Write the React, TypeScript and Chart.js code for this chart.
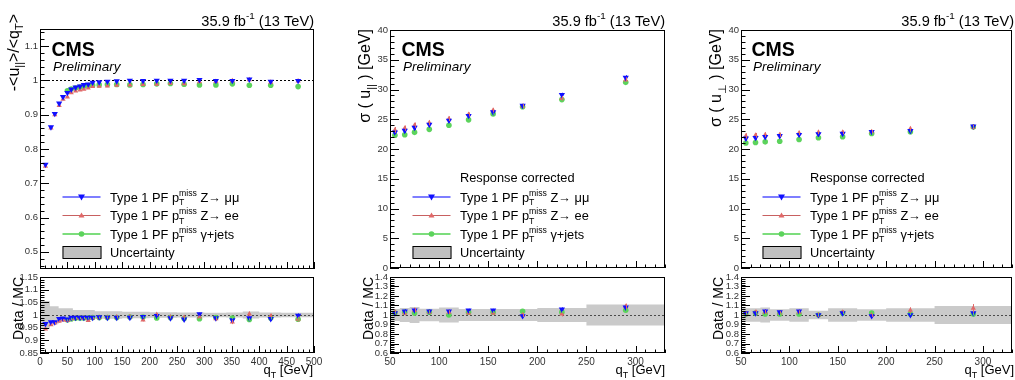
import React, { useEffect, useRef } from 'react';
import { Chart, registerables } from 'chart.js';

Chart.register(...registerables);

const FONT = '"Liberation Sans", Arial, Helvetica, sans-serif';
Chart.defaults.font.family = FONT;

// ---------------- Panel 1 : response -<u_||>/<q_T> ----------------
const respX = [10, 20, 27, 35, 42, 50, 57, 65, 73, 80, 88, 96, 108, 123, 140, 164, 188, 213, 238, 263, 291, 321, 351, 382, 421, 471];
const respMuMu = [0.755, 0.864, 0.903, 0.933, 0.952, 0.964, 0.974, 0.98, 0.983, 0.987, 0.989, 0.994, 0.995, 0.997, 0.998, 1.0, 0.999, 1.0, 1.0, 1.0, 1.002, 0.999, 0.999, 1.003, 0.997, 0.999];
const respEE = [0.75, 0.861, 0.9, 0.927, 0.945, 0.952, 0.964, 0.969, 0.972, 0.974, 0.978, 0.982, 0.983, 0.984, 0.986, 0.987, 0.988, 0.989, 0.992, 0.99, 0.996, 0.997, 0.999, 1.002, 0.995, 0.998];
const respGammaX = [50, 57, 65, 73, 80, 88, 96, 108, 123, 140, 164, 188, 213, 238, 263, 291, 321, 351, 382, 421, 471];
const respGamma = [0.97, 0.975, 0.978, 0.981, 0.983, 0.985, 0.986, 0.987, 0.988, 0.988, 0.987, 0.988, 0.99, 0.991, 0.989, 0.987, 0.987, 0.99, 0.986, 0.986, 0.982];

const respRatMuMu = [0.965, 0.972, 0.972, 0.985, 0.987, 0.983, 0.99, 0.99, 0.99, 0.99, 0.99, 0.99, 0.992, 0.99, 0.99, 0.99, 0.993, 0.997, 0.988, 0.983, 1.004, 0.988, 0.98, 0.988, 0.985, 0.998];
const respRatMuMuErr = [0.004, 0.003, 0.003, 0.003, 0.003, 0.003, 0.003, 0.003, 0.003, 0.003, 0.003, 0.003, 0.003, 0.003, 0.003, 0.003, 0.004, 0.004, 0.004, 0.005, 0.005, 0.006, 0.007, 0.007, 0.008, 0.008];
const respRatEE = [0.945, 0.962, 0.968, 0.975, 0.98, 0.978, 0.985, 0.988, 0.988, 0.988, 0.978, 0.988, 0.99, 0.99, 0.992, 0.993, 0.98, 1.002, 0.992, 0.99, 0.992, 0.985, 0.972, 1.004, 0.995, 0.983];
const respRatEEErr = [0.005, 0.004, 0.004, 0.004, 0.004, 0.004, 0.004, 0.004, 0.004, 0.004, 0.004, 0.004, 0.004, 0.004, 0.004, 0.004, 0.005, 0.005, 0.005, 0.006, 0.006, 0.007, 0.008, 0.009, 0.01, 0.01];
const respRatGamma = [0.98, 0.985, 0.987, 0.988, 0.988, 0.988, 0.99, 0.99, 0.99, 0.99, 0.992, 0.992, 0.988, 0.99, 0.986, 0.985, 0.99, 0.988, 0.982, 0.988, 0.983];
const respRatGammaErr = [0.003, 0.003, 0.003, 0.003, 0.003, 0.003, 0.003, 0.003, 0.003, 0.003, 0.003, 0.003, 0.003, 0.003, 0.004, 0.004, 0.004, 0.005, 0.005, 0.005, 0.006];

const respBandEdges = [0, 18, 34, 60, 100, 150, 200, 250, 300, 340, 370, 400, 440, 500];
const respBandErr = [0.055, 0.035, 0.027, 0.02, 0.015, 0.013, 0.011, 0.01, 0.009, 0.01, 0.014, 0.01, 0.009];

const respXTicks = [0, 50, 100, 150, 200, 250, 300, 350, 400, 450, 500];
const respYTicks = [0.5, 0.6, 0.7, 0.8, 0.9, 1, 1.1];
const respRatYTicks = [0.85, 0.9, 0.95, 1, 1.05, 1.1, 1.15];

// ---------------- Panels 2 & 3 : resolutions ----------------
const sigX = [55, 65, 75, 90, 110, 130, 155, 185, 225, 290];

const paraMuMu = [22.8, 23.1, 23.6, 24.1, 24.8, 25.6, 26.2, 27.3, 29.1, 32.0];
const paraMuMuErr = [0.45, 0.4, 0.4, 0.35, 0.35, 0.3, 0.3, 0.3, 0.35, 0.4];
const paraEE = [23.2, 23.5, 24.0, 24.4, 25.1, 25.8, 26.5, 27.2, 28.5, 31.6];
const paraEEErr = [0.5, 0.45, 0.45, 0.4, 0.4, 0.35, 0.35, 0.35, 0.4, 0.45];
const paraGamma = [22.3, 22.4, 22.8, 23.3, 24.0, 24.9, 25.9, 27.1, 28.3, 31.2];
const paraGammaErr = [0.15, 0.15, 0.15, 0.1, 0.1, 0.1, 0.1, 0.1, 0.1, 0.15];

const paraRatMuMu = [1.02, 1.04, 1.05, 1.04, 1.04, 1.05, 1.05, 0.99, 1.06, 1.08];
const paraRatMuMuErr = [0.02, 0.02, 0.02, 0.015, 0.015, 0.015, 0.015, 0.015, 0.02, 0.025];
const paraRatEE = [1.03, 1.02, 1.05, 1.03, 1.03, 1.02, 1.02, 1.0, 1.01, 1.09];
const paraRatEEErr = [0.025, 0.025, 0.025, 0.02, 0.02, 0.02, 0.02, 0.02, 0.025, 0.03];
const paraRatGamma = [1.02, 1.03, 1.02, 1.03, 1.0, 1.03, 1.03, 1.04, 1.03, 1.05];
const paraRatGammaErr = [0.01, 0.01, 0.01, 0.01, 0.01, 0.01, 0.01, 0.01, 0.01, 0.015];

const perpMuMu = [21.8, 21.9, 22.05, 22.2, 22.4, 22.5, 22.6, 22.9, 23.05, 23.8];
const perpMuMuErr = [0.4, 0.35, 0.35, 0.3, 0.3, 0.3, 0.25, 0.25, 0.3, 0.35];
const perpEE = [22.2, 22.3, 22.4, 22.4, 22.7, 22.8, 22.8, 22.9, 23.4, 23.7];
const perpEEErr = [0.45, 0.4, 0.4, 0.35, 0.35, 0.3, 0.3, 0.3, 0.35, 0.4];
const perpGamma = [21.0, 21.1, 21.2, 21.3, 21.6, 21.9, 22.05, 22.6, 22.9, 23.7];
const perpGammaErr = [0.12, 0.12, 0.12, 0.1, 0.1, 0.1, 0.1, 0.1, 0.1, 0.12];

const perpRatMuMu = [1.02, 1.02, 1.04, 1.03, 1.04, 1.0, 1.02, 0.99, 1.0, 1.02];
const perpRatMuMuErr = [0.02, 0.02, 0.02, 0.015, 0.015, 0.015, 0.015, 0.015, 0.02, 0.03];
const perpRatEE = [1.01, 1.03, 1.03, 1.02, 1.03, 1.0, 1.03, 1.0, 1.05, 1.07];
const perpRatEEErr = [0.025, 0.025, 0.025, 0.02, 0.02, 0.02, 0.02, 0.02, 0.03, 0.045];
const perpRatGamma = [1.01, 1.02, 1.01, 1.01, 1.01, 1.0, 1.02, 1.02, 1.01, 1.01];
const perpRatGammaErr = [0.01, 0.01, 0.01, 0.01, 0.01, 0.01, 0.01, 0.01, 0.01, 0.015];

const sigBandEdges = [50, 60, 70, 80, 100, 120, 140, 170, 200, 250, 330];
const paraBandErr = [0.063, 0.074, 0.084, 0.067, 0.08, 0.063, 0.063, 0.063, 0.074, 0.11];
const perpBandErr = [0.07, 0.07, 0.08, 0.06, 0.07, 0.045, 0.07, 0.06, 0.07, 0.095];

const sigXTicks = [50, 100, 150, 200, 250, 300];
const sigYTicks = [0, 5, 10, 15, 20, 25, 30, 35, 40];
const sigRatYTicks = [0.6, 0.7, 0.8, 0.9, 1, 1.1, 1.2, 1.3, 1.4];

// ---------------- styles ----------------
const C_MUMU = '#1010ff';
const C_EE = '#e06868';
const C_GAMMA = '#5cd35c';
const L_MUMU = 'rgba(40,40,255,0.6)';
const L_EE = '#c86060';
const L_GAMMA = 'rgba(80,210,80,0.75)';
const BAND_FILL = 'rgba(150,150,150,0.5)';

type Seg = { t?: string; sup?: string; sub?: string };

function fnt(size: number, style = '') {
  return `${style} ${size}px ${FONT}`.trim();
}

function richWidth(ctx: CanvasRenderingContext2D, segs: Seg[], size: number, style = '') {
  let w = 0;
  for (const s of segs) {
    if (s.t !== undefined) {
      ctx.font = fnt(size, style);
      w += ctx.measureText(s.t).width;
    } else {
      ctx.font = fnt(size * 0.68, style);
      const a = s.sup ? ctx.measureText(s.sup).width : 0;
      const b = s.sub ? ctx.measureText(s.sub).width : 0;
      w += Math.max(a, b);
    }
  }
  return w;
}

function drawRich(ctx: CanvasRenderingContext2D, segs: Seg[], x: number, y: number, size: number, align = 'left', style = '') {
  const w = richWidth(ctx, segs, size, style);
  let cx = align === 'right' ? x - w : align === 'center' ? x - w / 2 : x;
  ctx.textAlign = 'left';
  ctx.textBaseline = 'alphabetic';
  for (const s of segs) {
    if (s.t !== undefined) {
      ctx.font = fnt(size, style);
      ctx.fillText(s.t, cx, y);
      cx += ctx.measureText(s.t).width;
    } else {
      ctx.font = fnt(size * 0.68, style);
      let ww = 0;
      if (s.sup) {
        ctx.fillText(s.sup, cx, y - size * 0.45);
        ww = ctx.measureText(s.sup).width;
      }
      if (s.sub) {
        ctx.fillText(s.sub, cx, y + size * 0.3);
        ww = Math.max(ww, ctx.measureText(s.sub).width);
      }
      cx += ww;
    }
  }
}

function drawRotated(ctx: CanvasRenderingContext2D, segs: Seg[], bx: number, endY: number, size: number) {
  ctx.save();
  ctx.translate(bx, endY);
  ctx.rotate(-Math.PI / 2);
  ctx.fillStyle = '#000';
  drawRich(ctx, segs, 0, 0, size, 'right');
  ctx.restore();
}

function marker(ctx: CanvasRenderingContext2D, kind: string, x: number, y: number, r: number, color: string) {
  ctx.fillStyle = color;
  ctx.beginPath();
  if (kind === 'down') {
    ctx.moveTo(x - r, y - r * 0.7);
    ctx.lineTo(x + r, y - r * 0.7);
    ctx.lineTo(x, y + r);
  } else if (kind === 'up') {
    ctx.moveTo(x - r, y + r * 0.7);
    ctx.lineTo(x + r, y + r * 0.7);
    ctx.lineTo(x, y - r);
  } else {
    ctx.arc(x, y, r, 0, Math.PI * 2);
  }
  ctx.closePath();
  ctx.fill();
}

function range(a: number, b: number, d: number): number[] {
  const out: number[] = [];
  const n = Math.round((b - a) / d);
  for (let i = 0; i <= n; i++) out.push(+(a + i * d).toFixed(6));
  return out;
}

const LEG_LABELS: Seg[][] = [
  [{ t: 'Type 1 PF p' }, { sup: 'miss', sub: 'T' }, { t: ' Z\u2192 \u03bc\u03bc' }],
  [{ t: 'Type 1 PF p' }, { sup: 'miss', sub: 'T' }, { t: ' Z\u2192 ee' }],
  [{ t: 'Type 1 PF p' }, { sup: 'miss', sub: 'T' }, { t: ' \u03b3+jets' }],
];

function drawLegend(ctx: CanvasRenderingContext2D, lx: number, tx: number, header: boolean) {
  const size = 12.8;
  ctx.fillStyle = '#000';
  if (header) {
    ctx.font = fnt(size);
    ctx.textAlign = 'left';
    ctx.textBaseline = 'alphabetic';
    ctx.fillText('Response corrected', tx, 182);
  }
  const rows = [
    { y: 197, lc: L_MUMU, lw: 2, mk: 'down', mc: C_MUMU, r: 3.5 },
    { y: 215.5, lc: L_EE, lw: 1.2, mk: 'up', mc: C_EE, r: 3 },
    { y: 234, lc: L_GAMMA, lw: 2, mk: 'circle', mc: C_GAMMA, r: 2.8 },
  ];
  rows.forEach((row, i) => {
    ctx.strokeStyle = row.lc;
    ctx.lineWidth = row.lw;
    ctx.beginPath();
    ctx.moveTo(lx, row.y);
    ctx.lineTo(lx + 38, row.y);
    ctx.stroke();
    marker(ctx, row.mk, lx + 19, row.y, row.r, row.mc);
    ctx.fillStyle = '#000';
    drawRich(ctx, LEG_LABELS[i], tx, row.y + 4.6, size);
  });
  ctx.fillStyle = 'rgba(150,150,150,0.6)';
  ctx.fillRect(lx, 246, 39, 12);
  ctx.strokeStyle = '#000';
  ctx.lineWidth = 1;
  ctx.strokeRect(lx + 0.5, 246.5, 38, 12);
  ctx.fillStyle = '#000';
  ctx.font = fnt(size);
  ctx.textAlign = 'left';
  ctx.fillText('Uncertainty', tx, 256.6);
}

function drawHeader(ctx: CanvasRenderingContext2D, frameR: number, cmsX: number) {
  ctx.fillStyle = '#000';
  drawRich(ctx, [{ t: '35.9 fb' }, { sup: '-1' }, { t: ' (13 TeV)' }], frameR, 25.5, 14.6, 'right');
  ctx.font = fnt(19.5, 'bold');
  ctx.textAlign = 'left';
  ctx.textBaseline = 'alphabetic';
  ctx.fillText('CMS', cmsX, 56);
  ctx.font = fnt(13.5, 'italic');
  ctx.fillText('Preliminary', cmsX + 1.5, 71);
}

type Series = { xs: number[]; ys: number[]; errs?: number[]; style: string; rotation?: number; radius: number; color: string };

type SubPlot = {
  key: string;
  x: number; y: number; w: number; h: number;
  area: [number, number, number, number];
  xRange: [number, number];
  yRange: [number, number];
  xMajor: number[]; xMinor: number[]; showXLabels: boolean;
  yMajor: number[]; yMinor: number[];
  xTickLen: [number, number]; yTickLen: [number, number];
  series: Series[];
  band?: { edges: number[]; errs: number[] };
  refLine?: number;
  texts?: (ctx: CanvasRenderingContext2D) => void;
};

function fmt(v: number) {
  return String(Number(v.toFixed(3)));
}

function ChartCanvas({ p }: { p: SubPlot }) {
  const ref = useRef<HTMLCanvasElement>(null);
  useEffect(() => {
    const canvas = ref.current!;
    const [l, t, r, b] = p.area;
    const aL = l - p.x, aT = t - p.y, aR = r - p.x, aB = b - p.y;
    const datasets: any[] = p.series.map((s) => ({
      data: s.xs.map((x, i) => ({ x, y: s.ys[i] })),
      errors: s.errs,
      showLine: false,
      pointStyle: s.style,
      rotation: s.rotation ?? 0,
      pointRadius: s.radius,
      pointBackgroundColor: s.color,
      pointBorderColor: s.color,
      pointBorderWidth: 0,
      borderColor: s.color,
      backgroundColor: s.color,
    }));
    if (p.band) {
      const up: any[] = [];
      const lo: any[] = [];
      const errs = p.band.errs;
      p.band.edges.forEach((e, i) => {
        const k = Math.min(i, errs.length - 1);
        up.push({ x: e, y: 1 + errs[k] });
        lo.push({ x: e, y: 1 - errs[k] });
      });
      datasets.push({ data: up, stepped: 'before', showLine: true, borderWidth: 0, borderColor: 'rgba(0,0,0,0)', pointRadius: 0, fill: false });
      datasets.push({ data: lo, stepped: 'before', showLine: true, borderWidth: 0, borderColor: 'rgba(0,0,0,0)', pointRadius: 0, backgroundColor: BAND_FILL, fill: '-1' });
    }

    const deco = {
      id: 'deco',
      beforeDatasetsDraw(chart: any) {
        if (p.refLine === undefined) return;
        const ctx = chart.ctx as CanvasRenderingContext2D;
        const ca = chart.chartArea;
        const yy = Math.round(chart.scales.y.getPixelForValue(p.refLine)) + 0.5;
        ctx.save();
        ctx.strokeStyle = '#000';
        ctx.lineWidth = 1;
        ctx.setLineDash([2, 2]);
        ctx.beginPath();
        ctx.moveTo(ca.left, yy);
        ctx.lineTo(ca.right, yy);
        ctx.stroke();
        ctx.restore();
      },
      afterDatasetsDraw(chart: any) {
        const ctx = chart.ctx as CanvasRenderingContext2D;
        const ca = chart.chartArea;
        const xs = chart.scales.x, ys = chart.scales.y;
        ctx.save();
        ctx.beginPath();
        ctx.rect(ca.left, ca.top, ca.right - ca.left, ca.bottom - ca.top);
        ctx.clip();
        chart.data.datasets.forEach((ds: any) => {
          if (!ds.errors) return;
          ctx.strokeStyle = ds.borderColor;
          ctx.lineWidth = 1;
          ds.data.forEach((pt: any, i: number) => {
            const e = ds.errors[i];
            const px = Math.round(xs.getPixelForValue(pt.x)) + 0.5;
            ctx.beginPath();
            ctx.moveTo(px, ys.getPixelForValue(pt.y - e));
            ctx.lineTo(px, ys.getPixelForValue(pt.y + e));
            ctx.stroke();
          });
        });
        ctx.restore();
      },
      afterDraw(chart: any) {
        const ctx = chart.ctx as CanvasRenderingContext2D;
        const ca = chart.chartArea;
        const xs = chart.scales.x, ys = chart.scales.y;
        ctx.save();
        ctx.strokeStyle = '#000';
        ctx.lineWidth = 1;
        ctx.setLineDash([]);
        ctx.beginPath();
        const drawY = (vals: number[], len: number) => {
          vals.forEach((v) => {
            const yy = Math.round(ys.getPixelForValue(v)) + 0.5;
            if (yy < ca.top || yy > ca.bottom + 1) return;
            ctx.moveTo(ca.left, yy);
            ctx.lineTo(ca.left + len, yy);
          });
        };
        const drawX = (vals: number[], len: number) => {
          vals.forEach((v) => {
            const xx = Math.round(xs.getPixelForValue(v)) + 0.5;
            if (xx < ca.left || xx > ca.right + 1) return;
            ctx.moveTo(xx, ca.bottom);
            ctx.lineTo(xx, ca.bottom - len);
          });
        };
        drawY(p.yMinor, p.yTickLen[1]);
        drawY(p.yMajor, p.yTickLen[0]);
        drawX(p.xMinor, p.xTickLen[1]);
        drawX(p.xMajor, p.xTickLen[0]);
        ctx.stroke();
        ctx.strokeRect(ca.left + 0.5, ca.top + 0.5, ca.right - ca.left - 1, ca.bottom - ca.top - 1);
        if (p.texts) {
          ctx.translate(-p.x, -p.y);
          p.texts(ctx);
        }
        ctx.restore();
      },
    };

    const chart = new Chart(canvas, {
      type: 'line',
      data: { datasets },
      plugins: [deco],
      options: {
        animation: false,
        responsive: false,
        maintainAspectRatio: false,
        devicePixelRatio: 1,
        events: [],
        layout: { padding: { left: 0, top: aT, right: p.w - aR, bottom: p.showXLabels ? 0 : p.h - aB } },
        plugins: { legend: { display: false }, tooltip: { enabled: false }, title: { display: false } },
        scales: {
          x: {
            type: 'linear',
            min: p.xRange[0],
            max: p.xRange[1],
            display: p.showXLabels,
            grid: { display: false, drawTicks: false },
            border: { display: false },
            ticks: { autoSkip: false, maxRotation: 0, padding: 3, color: '#333', font: { size: 10, family: FONT }, callback: (v: any) => fmt(Number(v)) },
            afterBuildTicks: (s: any) => { s.ticks = p.xMajor.map((v) => ({ value: v })); },
            afterFit: (s: any) => { s.height = p.showXLabels ? p.h - aB : 0; },
          },
          y: {
            type: 'linear',
            min: p.yRange[0],
            max: p.yRange[1],
            grid: { display: false, drawTicks: false },
            border: { display: false },
            ticks: { autoSkip: false, padding: 2, color: '#333', font: { size: 9.5, family: FONT }, callback: (v: any) => fmt(Number(v)) },
            afterBuildTicks: (s: any) => { s.ticks = p.yMajor.map((v) => ({ value: v })); },
            afterFit: (s: any) => { s.width = aL; },
          },
        },
      } as any,
    });
    return () => chart.destroy();
  }, []);
  return (
    <canvas
      ref={ref}
      width={p.w}
      height={p.h}
      style={{ position: 'absolute', left: p.x, top: p.y, width: p.w, height: p.h, display: 'block' }}
    />
  );
}

const mumuS = (xs: number[], ys: number[], errs?: number[]): Series => ({ xs, ys, errs, style: 'triangle', rotation: 180, radius: 3.6, color: C_MUMU });
const eeS = (xs: number[], ys: number[], errs?: number[]): Series => ({ xs, ys, errs, style: 'triangle', radius: 3, color: C_EE });
const gamS = (xs: number[], ys: number[], errs?: number[]): Series => ({ xs, ys, errs, style: 'circle', radius: 2.8, color: C_GAMMA });

const respTitle: Seg[] = [{ t: '-<u' }, { sub: '||' }, { t: '>/<q' }, { sub: 'T' }, { t: '>' }];
const paraTitle: Seg[] = [{ t: '\u03c3 ( u' }, { sub: '||' }, { t: ' ) [GeV]' }];
const perpTitle: Seg[] = [{ t: '\u03c3 ( u' }, { sub: '\u22a5' }, { t: ' ) [GeV]' }];
const qtTitle: Seg[] = [{ t: 'q' }, { sub: 'T' }, { t: ' [GeV]' }];
const ratioTitle: Seg[] = [{ t: 'Data / MC' }];

function ratioTexts(frameR: number, titleX: number) {
  return (ctx: CanvasRenderingContext2D) => {
    drawRotated(ctx, ratioTitle, titleX, 277, 14);
    ctx.fillStyle = '#000';
    drawRich(ctx, qtTitle, frameR, 374, 13, 'right');
  };
}

const PLOTS: SubPlot[] = [
  {
    key: 'resp-main', x: 0, y: 0, w: 340, h: 285, area: [40, 29, 314, 269],
    xRange: [0, 500], yRange: [0.45, 1.15],
    xMajor: respXTicks, xMinor: range(0, 500, 10), showXLabels: false,
    yMajor: respYTicks, yMinor: range(0.46, 1.14, 0.02),
    xTickLen: [7, 3.5], yTickLen: [9, 4.5],
    series: [mumuS(respX, respMuMu), eeS(respX, respEE), gamS(respGammaX, respGamma)],
    refLine: 1,
    texts: (ctx) => {
      drawHeader(ctx, 314, 51.5);
      drawRotated(ctx, respTitle, 18.5, 14, 16);
      drawLegend(ctx, 62.5, 110, false);
    },
  },
  {
    key: 'resp-ratio', x: 0, y: 262, w: 340, h: 118, area: [40, 277, 314, 353],
    xRange: [0, 500], yRange: [0.85, 1.15],
    xMajor: respXTicks, xMinor: range(0, 500, 10), showXLabels: true,
    yMajor: respRatYTicks, yMinor: range(0.85, 1.15, 0.01),
    xTickLen: [7, 3.5], yTickLen: [9, 4.5],
    series: [mumuS(respX, respRatMuMu, respRatMuMuErr), eeS(respX, respRatEE, respRatEEErr), gamS(respGammaX, respRatGamma, respRatGammaErr)],
    band: { edges: respBandEdges, errs: respBandErr },
    refLine: 1,
    texts: ratioTexts(313, 22.5),
  },
  {
    key: 'para-main', x: 340, y: 0, w: 340, h: 285, area: [390, 30, 665, 268],
    xRange: [50, 330], yRange: [0, 40],
    xMajor: sigXTicks, xMinor: range(50, 330, 10), showXLabels: false,
    yMajor: sigYTicks, yMinor: range(0, 40, 1),
    xTickLen: [7, 3.5], yTickLen: [9, 4.5],
    series: [mumuS(sigX, paraMuMu, paraMuMuErr), eeS(sigX, paraEE, paraEEErr), gamS(sigX, paraGamma, paraGammaErr)],
    texts: (ctx) => {
      drawHeader(ctx, 665, 401.5);
      drawRotated(ctx, paraTitle, 370, 29, 16);
      drawLegend(ctx, 412.5, 460, true);
    },
  },
  {
    key: 'para-ratio', x: 340, y: 262, w: 340, h: 118, area: [390, 277, 665, 353],
    xRange: [50, 330], yRange: [0.6, 1.4],
    xMajor: sigXTicks, xMinor: range(50, 330, 10), showXLabels: true,
    yMajor: sigRatYTicks, yMinor: range(0.6, 1.4, 0.02),
    xTickLen: [7, 3.5], yTickLen: [9, 4.5],
    series: [mumuS(sigX, paraRatMuMu, paraRatMuMuErr), eeS(sigX, paraRatEE, paraRatEEErr), gamS(sigX, paraRatGamma, paraRatGammaErr)],
    band: { edges: sigBandEdges, errs: paraBandErr },
    refLine: 1,
    texts: ratioTexts(665, 373),
  },
  {
    key: 'perp-main', x: 680, y: 0, w: 336, h: 285, area: [741, 30, 1016, 268],
    xRange: [50, 330], yRange: [0, 40],
    xMajor: sigXTicks, xMinor: range(50, 330, 10), showXLabels: false,
    yMajor: sigYTicks, yMinor: range(0, 40, 1),
    xTickLen: [7, 3.5], yTickLen: [9, 4.5],
    series: [mumuS(sigX, perpMuMu, perpMuMuErr), eeS(sigX, perpEE, perpEEErr), gamS(sigX, perpGamma, perpGammaErr)],
    texts: (ctx) => {
      drawHeader(ctx, 1014, 751.5);
      drawRotated(ctx, perpTitle, 721, 29, 16);
      drawLegend(ctx, 762.5, 810, true);
    },
  },
  {
    key: 'perp-ratio', x: 680, y: 262, w: 336, h: 118, area: [741, 277, 1016, 353],
    xRange: [50, 330], yRange: [0.6, 1.4],
    xMajor: sigXTicks, xMinor: range(50, 330, 10), showXLabels: true,
    yMajor: sigRatYTicks, yMinor: range(0.6, 1.4, 0.02),
    xTickLen: [7, 3.5], yTickLen: [9, 4.5],
    series: [mumuS(sigX, perpRatMuMu, perpRatMuMuErr), eeS(sigX, perpRatEE, perpRatEEErr), gamS(sigX, perpRatGamma, perpRatGammaErr)],
    band: { edges: sigBandEdges, errs: perpBandErr },
    refLine: 1,
    texts: ratioTexts(1014, 723),
  },
];

export default function App() {
  return (
    <div style={{ position: 'fixed', left: 0, top: 0, width: 1015, height: 380, overflow: 'hidden', background: '#fff' }}>
      {PLOTS.map((p) => (
        <ChartCanvas key={p.key} p={p} />
      ))}
    </div>
  );
}
